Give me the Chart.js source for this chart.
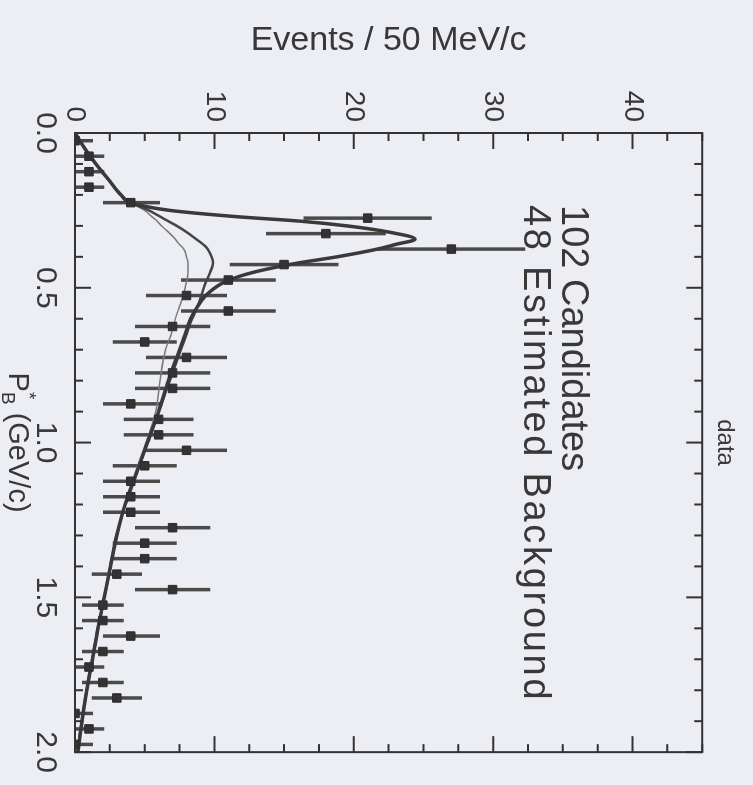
<!DOCTYPE html>
<html>
<head>
<meta charset="utf-8">
<title>data</title>
<script src="https://cdn.jsdelivr.net/npm/chart.js@4.4.1/dist/chart.umd.min.js"></script>
<style>
  html, body { margin: 0; padding: 0; overflow: hidden; background: #edeef3; }
  /* the plot is drawn upright and turned a quarter turn clockwise, like the scan */
  #wrap {
    position: absolute; left: 0; top: 0; width: 785px; height: 753px;
    transform-origin: 0 0; transform: translate(753px, 0) rotate(90deg);
  }
</style>
</head>
<body>
<div id="wrap"><canvas id="chart" width="785" height="753"></canvas></div>
<script>
// momentum bins (GeV/c), 50 MeV wide
const binCentres = [0.025, 0.075, 0.125, 0.175, 0.225, 0.275, 0.325, 0.375, 0.425, 0.475,
  0.525, 0.575, 0.625, 0.675, 0.725, 0.775, 0.825, 0.875, 0.925, 0.975,
  1.025, 1.075, 1.125, 1.175, 1.225, 1.275, 1.325, 1.375, 1.425, 1.475,
  1.525, 1.575, 1.625, 1.675, 1.725, 1.775, 1.825, 1.875, 1.925, 1.975];
const counts = [0, 1, 1, 1, 4, 21, 18, 27, 15, 11,
  8, 11, 7, 5, 8, 7, 7, 4, 6, 6,
  8, 5, 4, 4, 4, 7, 5, 5, 3, 7,
  2, 2, 4, 2, 1, 2, 3, 0, 1, 0];
const errUp = [1.3, 1.1, 1.1, 1.1, 2.1, 4.6, 4.3, 5.3, 3.9, 3.4,
  2.9, 3.4, 2.7, 2.3, 2.9, 2.7, 2.7, 2.1, 2.5, 2.5,
  2.9, 2.3, 2.1, 2.1, 2.1, 2.7, 2.3, 2.3, 1.8, 2.7,
  1.5, 1.5, 2.1, 1.5, 1.1, 1.5, 1.8, 1.3, 1.1, 1.3];
const errDown = [0, 1.0, 1.0, 1.0, 2.0, 4.6, 4.3, 5.3, 3.9, 3.4,
  2.9, 3.4, 2.7, 2.3, 2.9, 2.7, 2.7, 2.0, 2.5, 2.5,
  2.9, 2.3, 2.0, 2.0, 2.0, 2.7, 2.3, 2.3, 1.8, 2.7,
  1.5, 1.5, 2.0, 1.5, 1.0, 1.5, 1.8, 0, 1.0, 0];

// fitted curves
const fitP = [0, 0.05, 0.1, 0.15, 0.2, 0.225, 0.25, 0.27, 0.285, 0.3, 0.32, 0.343, 0.36, 0.374,
  0.4, 0.42, 0.45, 0.48, 0.52, 0.56, 0.6, 0.65, 0.7, 0.8, 0.9, 1.0, 1.1, 1.2, 1.3, 1.4,
  1.5, 1.6, 1.7, 1.8, 1.9, 2.0];
const fitTotal = [0, 0.7, 1.5, 2.4, 3.3, 4.0, 6.8, 11.5, 16.2, 19.5, 22.5, 24.4, 23.0, 21.8,
  18.8, 16.0, 12.8, 10.8, 9.5, 8.8, 8.3, 7.9, 7.5, 6.7, 6.0, 5.2, 4.4, 3.6, 3.0, 2.55,
  2.1, 1.65, 1.25, 0.85, 0.5, 0.2];
const fitMid = [0, 0.7, 1.5, 2.4, 3.3, 4.0, 5.3, 6.1, 6.7, 7.3, 8.0, 8.7, 9.2, 9.5,
  9.8, 9.9, 9.7, 9.4, 9.1, 8.8, 8.4, 8.0, 7.6, 6.8, 6.0, 5.2, 4.4, 3.6, 3.0, 2.55,
  2.1, 1.65, 1.25, 0.85, 0.5, 0.2];
const fitLow = [0, 0.7, 1.5, 2.4, 3.3, 4.0, 5.0, 5.5, 5.9, 6.2, 6.7, 7.2, 7.5, 7.8,
  8.0, 8.1, 8.1, 8.0, 7.8, 7.5, 7.2, 6.9, 6.5, 6.1, 5.8, 5.1, 4.3, 3.6, 3.0, 2.5,
  2.05, 1.6, 1.2, 0.8, 0.45, 0.15];

const momentumTicks = [0, 0.5, 1.0, 1.5, 2.0];
const eventTicks = [0, 10, 20, 30, 40];

const ink = '#383838';
const face = 'Liberation Sans, Arial, Helvetica, sans-serif';

function pairs(xs, ys) {
  return xs.map((x, i) => ({ x: x, y: ys[i] }));
}

// error bars, inward ticks, frame and the labels
const decorations = {
  id: 'decorations',
  beforeDatasetsDraw(chart) {
    const { ctx, chartArea: a, scales: { x, y } } = chart;
    ctx.save();
    ctx.beginPath();
    ctx.rect(a.left, a.top, a.right - a.left, a.bottom - a.top);
    ctx.clip();
    ctx.strokeStyle = '#4a4a4a';
    ctx.lineWidth = 3.5;
    ctx.beginPath();
    binCentres.forEach((p, i) => {
      const px = x.getPixelForValue(p);
      ctx.moveTo(px, y.getPixelForValue(counts[i] - errDown[i]));
      ctx.lineTo(px, y.getPixelForValue(counts[i] + errUp[i]));
    });
    ctx.stroke();
    ctx.restore();
  },
  afterDraw(chart) {
    const { ctx, chartArea: a, scales: { x, y } } = chart;
    ctx.save();
    ctx.strokeStyle = '#333';
    ctx.lineWidth = 2;
    ctx.strokeRect(a.left, a.top, a.right - a.left, a.bottom - a.top);
    ctx.beginPath();
    for (let i = 0; i <= 20; i++) {
      const px = x.getPixelForValue(i / 10);
      const len = i % 5 === 0 ? 16 : 8;
      ctx.moveTo(px, a.bottom); ctx.lineTo(px, a.bottom - len);
      ctx.moveTo(px, a.top); ctx.lineTo(px, a.top + len);
    }
    for (let j = 0; j <= 18; j++) {
      const py = y.getPixelForValue(j * 2.5);
      const len = j % 4 === 0 ? 16 : 8;
      ctx.moveTo(a.left, py); ctx.lineTo(a.left + len, py);
      ctx.moveTo(a.right, py); ctx.lineTo(a.right - len, py);
    }
    ctx.stroke();

    // legend text inside the frame
    ctx.fillStyle = ink;
    ctx.textBaseline = 'alphabetic';
    ctx.textAlign = 'left';
    ctx.font = '38px ' + face;
    ctx.fillText('102 Candidates', a.left + 72, a.top + 140);
    ctx.letterSpacing = '2.7px';
    ctx.fillText('48 Estimated Background', a.left + 72, a.top + 178);
    ctx.letterSpacing = '0px';

    // momentum axis title with star and subscript
    const cx = (a.left + a.right) / 2;
    const ty = a.bottom + 66;
    const big = '29px ' + face, small = '19px ' + face;
    ctx.font = big;
    const wP = ctx.measureText('P').width;
    const wRest = ctx.measureText(' (GeV/c)').width;
    ctx.font = small;
    const wB = ctx.measureText('B').width;
    let tx = cx - (wP + wB + wRest) / 2;
    ctx.font = big;
    ctx.fillText('P', tx, ty);
    tx += wP;
    ctx.font = small;
    ctx.fillText('*', tx, ty - 14);
    ctx.fillText('B', tx, ty + 7);
    tx += wB;
    ctx.font = big;
    ctx.fillText(' (GeV/c)', tx, ty);
    ctx.restore();
  }
};

const curveStyle = { pointRadius: 0, fill: false, cubicInterpolationMode: 'monotone' };

new Chart(document.getElementById('chart'), {
  type: 'scatter',
  data: {
    datasets: [
      {
        type: 'scatter', label: 'data', order: 0,
        data: pairs(binCentres, counts),
        pointStyle: 'rect', pointRadius: 6,
        backgroundColor: '#333', borderColor: '#2c2c2c', borderWidth: 1
      },
      Object.assign({ type: 'line', label: 'fit', order: 1, data: pairs(fitP, fitTotal),
        borderColor: '#3a3a3a', borderWidth: 3.5 }, curveStyle),
      Object.assign({ type: 'line', label: 'fit 2', order: 2, data: pairs(fitP, fitMid),
        borderColor: '#454545', borderWidth: 2.5 }, curveStyle),
      Object.assign({ type: 'line', label: 'background', order: 3, data: pairs(fitP, fitLow),
        borderColor: '#7a7a7a', borderWidth: 1.5 }, curveStyle)
    ]
  },
  options: {
    responsive: false,
    animation: false,
    layout: { padding: { left: 0, right: 27, top: 0, bottom: 0 } },
    plugins: {
      legend: { display: false },
      tooltip: { enabled: false },
      title: {
        display: true, text: 'data', color: ink, fullSize: false,
        font: { family: face, size: 24, weight: 'normal' },
        padding: { top: 14, bottom: 8 }
      }
    },
    scales: {
      x: {
        type: 'linear', min: 0, max: 2,
        grid: { display: false, drawTicks: false },
        border: { display: false },
        afterBuildTicks: s => { s.ticks = momentumTicks.map(v => ({ value: v })); },
        afterFit: s => { s.height = 75; },
        ticks: {
          color: ink, padding: 12, maxRotation: 0,
          font: { family: face, size: 30 },
          callback: v => Number(v).toFixed(1)
        }
      },
      y: {
        type: 'linear', min: 0, max: 45,
        grid: { display: false, drawTicks: false },
        border: { display: false },
        afterBuildTicks: s => { s.ticks = eventTicks.map(v => ({ value: v })); },
        afterFit: s => { s.width = 133; },
        title: {
          display: true, text: 'Events / 50 MeV/c', color: ink,
          font: { family: face, size: 34 },
          padding: { top: 20, bottom: 0 }
        },
        ticks: {
          color: ink, padding: 11,
          font: { family: face, size: 28 }
        }
      }
    }
  },
  plugins: [decorations]
});
</script>
</body>
</html>
